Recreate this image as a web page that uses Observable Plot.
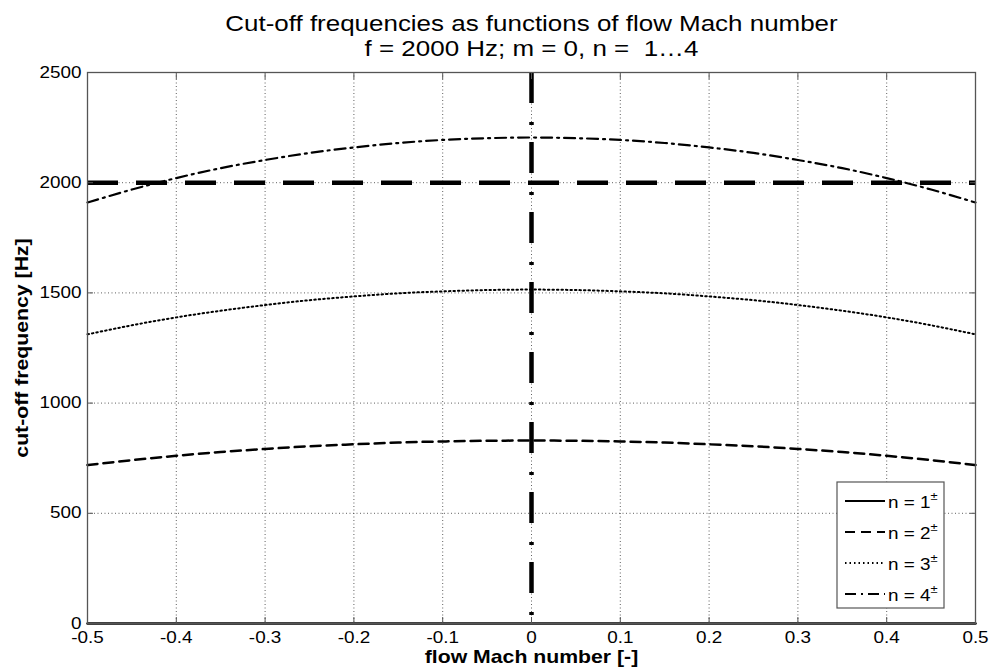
<!DOCTYPE html>
<html>
<head>
<meta charset="utf-8">
<script src="https://cdn.jsdelivr.net/npm/d3@7"></script>
<script src="https://cdn.jsdelivr.net/npm/@observablehq/plot@0.6"></script>
<style>
  body { margin: 0; background: #fff; }
  #chart { position: relative; width: 991px; height: 670px; }
  #chart svg { font-family: "Liberation Sans", Arial, sans-serif; }
</style>
</head>
<body>
<div id="chart"></div>
<script>
// Flow Mach number samples
const mach = [-0.5, -0.45, -0.4, -0.35, -0.3, -0.25, -0.2, -0.15, -0.1, -0.05, 0,
              0.05, 0.1, 0.15, 0.2, 0.25, 0.3, 0.35, 0.4, 0.45, 0.5];

// Cut-off frequency [Hz] of each radial mode n (m = 0)
const cutoffN1 = [0, 0, 0, 0, 0, 0, 0, 0, 0, 0, 0, 0, 0, 0, 0, 0, 0, 0, 0, 0, 0];
const cutoffN2 = [719, 741, 761, 778, 792, 804, 813, 821, 826, 829, 830,
                  829, 826, 821, 813, 804, 792, 778, 761, 741, 719];
const cutoffN3 = [1312, 1353, 1389, 1419, 1445, 1467, 1484, 1498, 1507, 1513, 1515,
                  1513, 1507, 1498, 1484, 1467, 1445, 1419, 1389, 1353, 1312];
const cutoffN4 = [1910, 1969, 2021, 2066, 2103, 2135, 2160, 2180, 2194, 2202, 2205,
                  2202, 2194, 2180, 2160, 2135, 2103, 2066, 2021, 1969, 1910];

// Excitation frequency and reference Mach number
const excitationFreq = 2000;
const referenceMach = 0;

// Axis ticks
const xTicks = [-0.5, -0.4, -0.3, -0.2, -0.1, 0, 0.1, 0.2, 0.3, 0.4, 0.5];
const yTicks = [0, 500, 1000, 1500, 2000, 2500];

// Legend entries
const modeLabels = ["n = 1", "n = 2", "n = 3", "n = 4"];

const W = 991, H = 670;
const mL = 87, mR = 16, mT = 72, mB = 47;
const FONT = "'Liberation Sans', Arial, sans-serif";
const STRETCH = 1.18; // horizontal widening of all lettering

const series = [
  {label: modeLabels[0], values: cutoffN1, dash: null,        width: 2.5},
  {label: modeLabels[1], values: cutoffN2, dash: "10,6",      width: 2.5},
  {label: modeLabels[2], values: cutoffN3, dash: "1.5,3",     width: 2},
  {label: modeLabels[3], values: cutoffN4, dash: "11,5,2,5",  width: 2.2}
];

const gridStyle = {stroke: "#444", strokeOpacity: 0.85, strokeWidth: 1, strokeDasharray: "1,2.5"};

const curveMarks = series.map(s =>
  Plot.line(mach.map((m, i) => ({M: m, f: s.values[i]})), {
    x: "M", y: "f", stroke: "#000", strokeWidth: s.width,
    strokeDasharray: s.dash ?? undefined, curve: "natural"
  })
);

const plot = Plot.plot({
  width: W,
  height: H,
  marginLeft: mL,
  marginRight: mR,
  marginTop: mT,
  marginBottom: mB,
  style: {fontSize: "16px", fontFamily: FONT, color: "#000", background: "#fff"},
  x: {domain: [-0.5, 0.5]},
  y: {domain: [0, 2500]},
  marks: [
    Plot.gridX(xTicks, gridStyle),
    Plot.gridY(yTicks, gridStyle),
    ...curveMarks,
    Plot.ruleY([excitationFreq], {stroke: "#000", strokeWidth: 4.5, strokeDasharray: "31,18"}),
    Plot.ruleX([referenceMach], {y1: 2500, y2: 0, stroke: "#000", strokeWidth: 4.5, strokeDasharray: "31,19,3,17"}),
    Plot.frame({stroke: "#555", strokeWidth: 1.3}),
    Plot.axisX(xTicks, {anchor: "bottom", tickSize: -6, tickPadding: 14, stroke: "#555", label: null,
      fontSize: 16, tickFormat: d => String(d)}),
    Plot.axisX(xTicks, {anchor: "top", tickSize: -6, tickFormat: () => "", stroke: "#555", label: null}),
    Plot.axisY(yTicks, {anchor: "left", tickSize: -6, tickPadding: 12, stroke: "#555", label: null,
      fontSize: 16, tickFormat: d => String(d)}),
    Plot.axisY(yTicks, {anchor: "right", tickSize: -6, tickFormat: () => "", stroke: "#555", label: null}),
    // Axis titles
    Plot.text(["flow Mach number [-]"], {frameAnchor: "bottom", dy: 39, fontWeight: "bold", fontSize: 18, fill: "#000"}),
    Plot.text(["cut-off frequency [Hz]"], {frameAnchor: "left", textAnchor: "middle", dx: -65, rotate: -90,
      fontWeight: "bold", fontSize: 18, fill: "#000"}),
    // Title
    Plot.text(["Cut-off frequencies as functions of flow Mach number"], {frameAnchor: "top", dy: -42, fontSize: 22, fill: "#000", lineAnchor: "bottom"}),
    Plot.text(["f = 2000 Hz; m = 0, n =  1…4"], {frameAnchor: "top", dy: -17, fontSize: 22, fill: "#000", lineAnchor: "bottom"})
  ]
});

document.getElementById("chart").appendChild(plot);

// Legend box drawn in the lower-right corner of the axes
const svg = d3.select(plot);
const lg = svg.append("g").attr("transform", "translate(837,482)");
lg.append("rect").attr("width", 107).attr("height", 126)
  .attr("fill", "#fff").attr("stroke", "#555").attr("stroke-width", 1.2);
series.forEach((s, i) => {
  const y = 19 + i * 31;
  lg.append("line").attr("x1", 8).attr("x2", 48).attr("y1", y).attr("y2", y)
    .attr("stroke", "#000").attr("stroke-width", Math.min(s.width, 2))
    .attr("stroke-dasharray", s.dash);
  const t = lg.append("text").attr("transform", `translate(51,${y + 7})`)
    .attr("text-anchor", "start")
    .attr("font-size", 16).attr("font-family", FONT).attr("fill", "#000");
  t.append("tspan").text(s.label);
  t.append("tspan").attr("dy", -8).attr("font-size", 11).text("±");
});

// Widen all lettering along its writing direction, around each anchor point
svg.selectAll("text").each(function() {
  const tr = this.getAttribute("transform") || "";
  this.setAttribute("transform", `${tr} scale(${STRETCH},1)`);
});
</script>
</body>
</html>
